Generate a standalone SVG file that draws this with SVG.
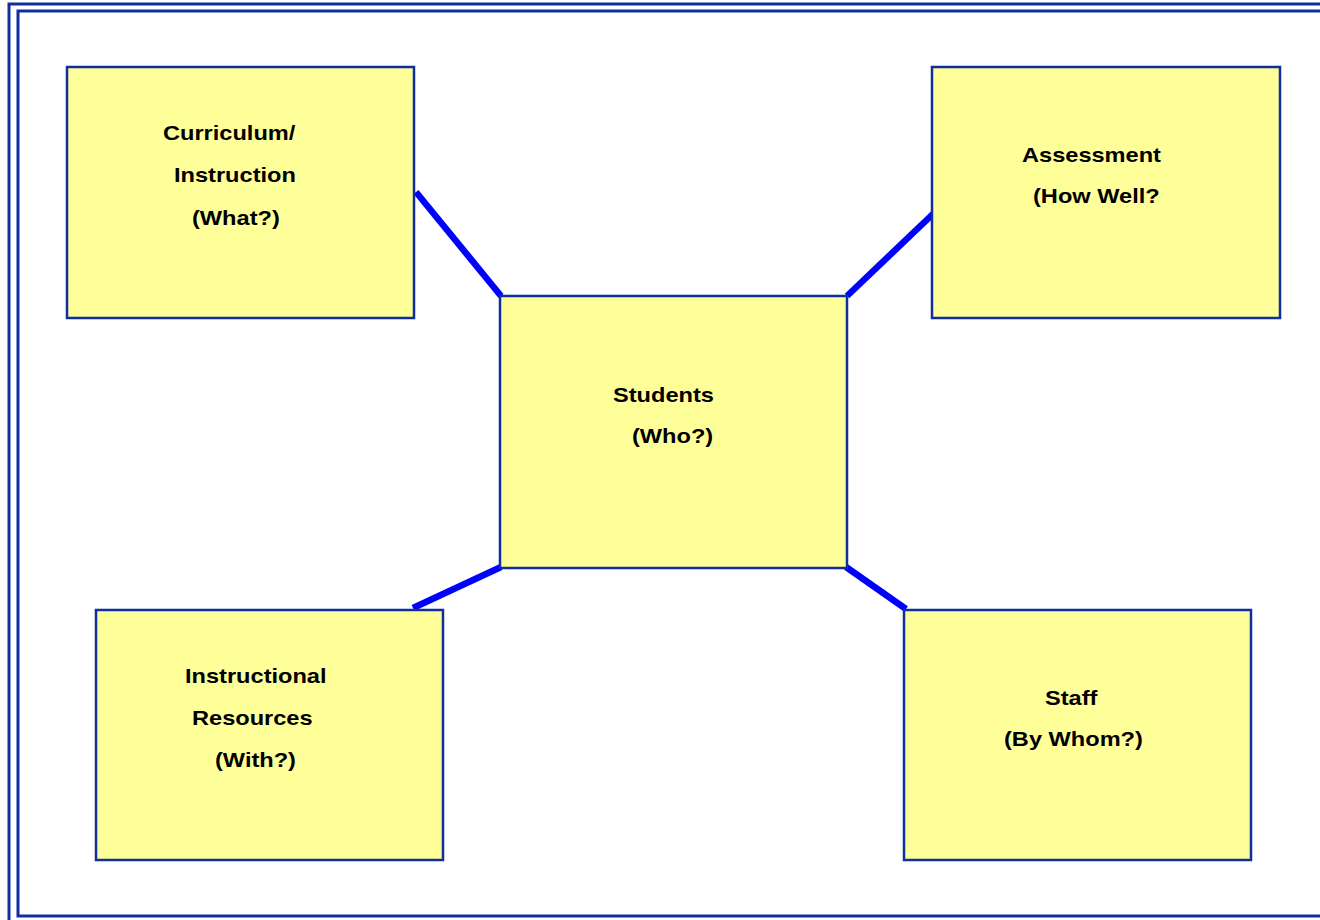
<svg xmlns="http://www.w3.org/2000/svg" width="1320" height="920" viewBox="0 0 1320 920">
  <style>
    .frame { fill: none; stroke: #0e2fa0; stroke-width: 3; }
    .box { fill: #ffff99; stroke: #0e2fa0; stroke-width: 2.5; }
    .lbl { font-family: "Liberation Sans", Arial, sans-serif; font-size: 20px; font-weight: bold; fill: #000000; }
    .conn { stroke: #0000ff; stroke-width: 6.5; stroke-linecap: butt; fill: none; }
  </style>
  <rect width="1320" height="920" fill="#ffffff"/>
  <g id="frame">
    <rect class="frame" x="9" y="4" width="1330" height="920"/>
    <rect class="frame" x="18" y="11" width="1320" height="905"/>
  </g>
  <g id="connectors">
    <line class="conn" x1="416" y1="192" x2="501" y2="296"/>
    <line class="conn" x1="847" y1="296" x2="934" y2="213"/>
    <line class="conn" x1="501" y1="567" x2="413" y2="608"/>
    <line class="conn" x1="846" y1="567" x2="906" y2="609"/>
  </g>
  <g id="node-curriculum">
    <rect class="box" x="67" y="67" width="347" height="251"/>
    <text class="lbl" transform="translate(163,140) scale(1.18,1)">Curriculum/</text>
    <text class="lbl" transform="translate(174,182) scale(1.18,1)">Instruction</text>
    <text class="lbl" transform="translate(192,225) scale(1.18,1)">(What?)</text>
  </g>
  <g id="node-assessment">
    <rect class="box" x="932" y="67" width="348" height="251"/>
    <text class="lbl" transform="translate(1022,162) scale(1.18,1)">Assessment</text>
    <text class="lbl" transform="translate(1033,203) scale(1.18,1)">(How Well?</text>
  </g>
  <g id="node-students">
    <rect class="box" x="500" y="296" width="347" height="272"/>
    <text class="lbl" transform="translate(613,402) scale(1.18,1)">Students</text>
    <text class="lbl" transform="translate(632,443) scale(1.18,1)">(Who?)</text>
  </g>
  <g id="node-resources">
    <rect class="box" x="96" y="610" width="347" height="250"/>
    <text class="lbl" transform="translate(185,683) scale(1.18,1)">Instructional</text>
    <text class="lbl" transform="translate(192,725) scale(1.18,1)">Resources</text>
    <text class="lbl" transform="translate(215,767) scale(1.18,1)">(With?)</text>
  </g>
  <g id="node-staff">
    <rect class="box" x="904" y="610" width="347" height="250"/>
    <text class="lbl" transform="translate(1045,705) scale(1.18,1)">Staff</text>
    <text class="lbl" transform="translate(1004,746) scale(1.18,1)">(By Whom?)</text>
  </g>
</svg>
